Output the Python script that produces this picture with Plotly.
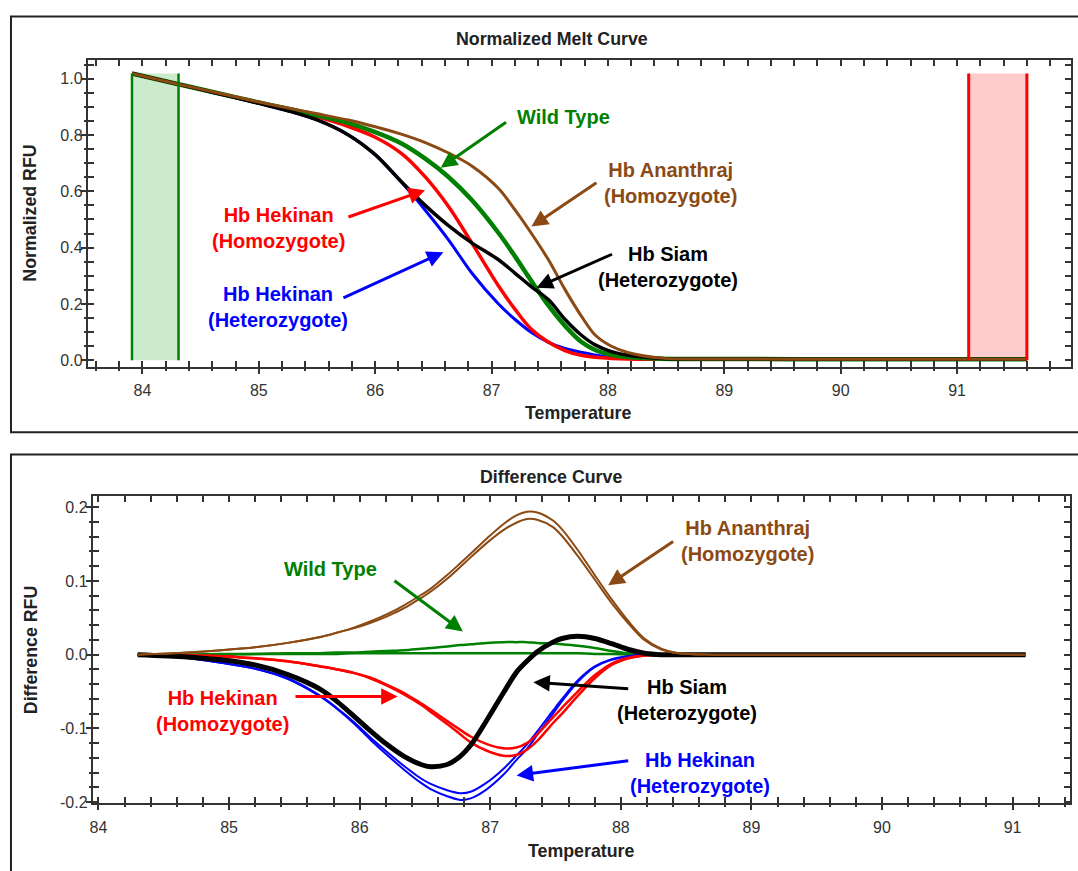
import plotly.graph_objects as go

W, H = 1078, 871
FONT = "Liberation Sans, Arial, sans-serif"

# ---------------- Normalized melt curve data ----------------
melt_temp = [83.91, 84.31, 84.63, 85.0, 85.25, 85.49, 85.77, 86.0, 86.23, 86.43, 86.63, 86.83, 87.06,
             87.2, 87.34, 87.49, 87.63, 87.77, 87.89, 88.03, 88.17, 88.46, 89.0, 90.0, 91.0, 91.6]
melt_wild = [1.018, 0.98, 0.95, 0.915, 0.893, 0.871, 0.842, 0.81, 0.769, 0.716, 0.651, 0.569, 0.452,
             0.37, 0.283, 0.194, 0.123, 0.066, 0.037, 0.02, 0.012, 0.006, 0.005, 0.004, 0.004, 0.004]
melt_hek_homo = [1.018, 0.98, 0.95, 0.914, 0.891, 0.866, 0.83, 0.792, 0.733, 0.651, 0.546, 0.417, 0.264,
                 0.182, 0.111, 0.064, 0.035, 0.018, 0.011, 0.007, 0.005, 0.004, 0.004, 0.004, 0.004, 0.004]
melt_hek_het = [1.018, 0.98, 0.949, 0.912, 0.886, 0.855, 0.8, 0.73, 0.63, 0.533, 0.428, 0.31, 0.2,
                0.146, 0.1, 0.064, 0.042, 0.029, 0.019, 0.011, 0.007, 0.004, 0.004, 0.004, 0.004, 0.004]
melt_siam = [1.018, 0.98, 0.949, 0.912, 0.886, 0.855, 0.8, 0.73, 0.632, 0.55, 0.478, 0.417, 0.357,
             0.31, 0.262, 0.215, 0.146, 0.09, 0.055, 0.031, 0.018, 0.007, 0.005, 0.004, 0.004, 0.004]
melt_ananthraj = [1.018, 0.98, 0.951, 0.917, 0.896, 0.876, 0.853, 0.829, 0.802, 0.773, 0.736, 0.69, 0.61,
                  0.535, 0.452, 0.356, 0.252, 0.158, 0.09, 0.05, 0.028, 0.008, 0.005, 0.004, 0.004, 0.004]

green_band = [83.91, 84.31]
red_band = [91.1, 91.6]
band_top = 1.018

# ---------------- Difference curve data ----------------
diff_temp = [84.3, 84.68, 84.94, 85.2, 85.45, 85.7, 85.83, 85.96, 86.08, 86.21, 86.34, 86.47,
             86.54, 86.67, 86.77, 86.85, 86.97, 87.1, 87.2, 87.28, 87.36, 87.48, 87.55, 87.67,
             87.8, 87.93, 88.06, 88.18, 88.31, 88.44, 88.7, 89.5, 90.5, 91.1]
diff_ananthraj_a = [0, 0.003, 0.006, 0.01, 0.016, 0.024, 0.03, 0.037, 0.045, 0.055, 0.067, 0.081,
                    0.089, 0.108, 0.124, 0.137, 0.157, 0.177, 0.189, 0.194, 0.193, 0.182, 0.17, 0.142,
                    0.108, 0.075, 0.045, 0.022, 0.008, 0.002, 0, 0, 0, 0]
diff_ananthraj_b = [0, 0.003, 0.006, 0.01, 0.016, 0.024, 0.03, 0.036, 0.043, 0.052, 0.063, 0.077,
                    0.085, 0.103, 0.119, 0.132, 0.151, 0.169, 0.179, 0.184, 0.183, 0.173, 0.161, 0.134,
                    0.102, 0.07, 0.042, 0.02, 0.007, 0.002, 0, 0, 0, 0]
diff_wild_a = [0, 0, 0.001, 0.001, 0.002, 0.002, 0.003, 0.003, 0.004, 0.005, 0.006, 0.008,
               0.009, 0.011, 0.013, 0.014, 0.016, 0.017, 0.017, 0.017, 0.016, 0.015, 0.014, 0.012,
               0.009, 0.005, 0.002, 0.001, 0, 0, 0, 0, 0, 0]
diff_wild_b = [0, 0, 0, 0.001, 0.001, 0.001, 0.001, 0.002, 0.002, 0.002, 0.002, 0.002,
               0.002, 0.002, 0.002, 0.002, 0.002, 0.002, 0.002, 0.002, 0.002, 0.002, 0.002, 0.002,
               0.001, 0.001, 0, 0, 0, 0, 0, 0, 0, 0]
diff_siam = [0, -0.003, -0.007, -0.014, -0.027, -0.047, -0.064, -0.084, -0.103, -0.122, -0.138, -0.149,
             -0.152, -0.149, -0.138, -0.123, -0.09, -0.052, -0.024, -0.009, 0.004, 0.017, 0.022, 0.025,
             0.022, 0.015, 0.007, 0.002, 0, 0, 0, 0, 0, 0]
diff_hek_het_a = [0, -0.0045, -0.011, -0.019, -0.032, -0.056, -0.073, -0.092, -0.112, -0.132, -0.151, -0.168,
                  -0.175, -0.184, -0.188, -0.186, -0.174, -0.155, -0.137, -0.122, -0.104, -0.076, -0.06, -0.035,
                  -0.016, -0.006, -0.002, 0, 0, 0, 0, 0, 0, 0]
diff_hek_het_b = [0, -0.0045, -0.011, -0.019, -0.033, -0.057, -0.074, -0.094, -0.115, -0.136, -0.156, -0.174,
                  -0.182, -0.192, -0.197, -0.195, -0.183, -0.163, -0.143, -0.128, -0.109, -0.08, -0.063, -0.037,
                  -0.017, -0.007, -0.002, 0, 0, 0, 0, 0, 0, 0]
diff_hek_homo_a = [0, -0.001, -0.002, -0.005, -0.009, -0.016, -0.02, -0.025, -0.031, -0.041, -0.052, -0.066,
                   -0.074, -0.09, -0.102, -0.111, -0.121, -0.127, -0.126, -0.12, -0.108, -0.085, -0.072, -0.05,
                   -0.028, -0.012, -0.004, -0.001, 0, 0, 0, 0, 0, 0]
diff_hek_homo_b = [0, -0.001, -0.002, -0.005, -0.009, -0.016, -0.02, -0.025, -0.032, -0.042, -0.054, -0.068,
                   -0.077, -0.094, -0.108, -0.119, -0.13, -0.137, -0.136, -0.129, -0.117, -0.093, -0.08, -0.056,
                   -0.032, -0.014, -0.005, -0.001, 0, 0, 0, 0, 0, 0]

# tick labels
melt_x_ticks = [84, 85, 86, 87, 88, 89, 90, 91]
melt_y_ticks = [0.0, 0.2, 0.4, 0.6, 0.8, 1.0]
melt_y_labels = ["0.0", "0.2", "0.4", "0.6", "0.8", "1.0"]
diff_x_ticks = [84, 85, 86, 87, 88, 89, 90, 91]
diff_y_ticks = [-0.2, -0.1, 0.0, 0.1, 0.2]
diff_y_labels = ["-0.2", "-0.1", "0.0", "0.1", "0.2"]

BROWN = "#8B4A14"
GREEN = "#008000"
RED = "#FF0000"
BLUE = "#0000FF"
BLACK = "#000000"
AX = "#333333"


def px(x):
    return x / W


def py(y):
    return 1 - y / H


fig = go.Figure()

top_series = [
    (melt_hek_het, BLUE, 3),
    (melt_hek_homo, RED, 3.5),
    (melt_wild, GREEN, 4.5),
    (melt_siam, BLACK, 3.5),
    (melt_ananthraj, BROWN, 3),
]
for vals, col, w in top_series:
    fig.add_trace(go.Scatter(x=melt_temp, y=vals, mode="lines", xaxis="x", yaxis="y",
                             line=dict(color=col, width=w, shape="spline", smoothing=0.9),
                             showlegend=False, hoverinfo="skip"))

bottom_series = [
    (diff_wild_b, GREEN, 2.5),
    (diff_wild_a, GREEN, 2.5),
    (diff_hek_het_a, BLUE, 2),
    (diff_hek_het_b, BLUE, 2),
    (diff_hek_homo_a, RED, 2.5),
    (diff_hek_homo_b, RED, 2.5),
    (diff_siam, BLACK, 5),
    (diff_ananthraj_a, BROWN, 2),
    (diff_ananthraj_b, BROWN, 2),
]
for vals, col, w in bottom_series:
    fig.add_trace(go.Scatter(x=diff_temp, y=vals, mode="lines", xaxis="x2", yaxis="y2",
                             line=dict(color=col, width=w, shape="spline", smoothing=0.9),
                             showlegend=False, hoverinfo="skip"))

for xa, ya in [("x3", "y"), ("x", "y3"), ("x4", "y2"), ("x2", "y4")]:
    fig.add_trace(go.Scatter(x=[], y=[], xaxis=xa, yaxis=ya, showlegend=False))

top_xr = [83.53, 91.975]
top_yr = [-0.0236, 1.066]
bot_xr = [83.956, 91.44]
bot_yr = [-0.2019, 0.2153]

top_xdom = [px(85), px(1070.5)]
top_ydom = [py(370), py(60.5)]
bot_xdom = [px(90), px(1070)]
bot_ydom = [py(810), py(500)]

tickfont = dict(family=FONT, size=16, color=AX)


def main_axis(dom, rng, dtick, minor_dtick, anchor):
    return dict(domain=dom, range=rng, anchor=anchor, showline=True, linecolor=AX, linewidth=2,
                mirror="allticks", ticks="inside", ticklen=6, tickwidth=1.5, tickcolor=AX,
                tick0=0, dtick=dtick,
                showticklabels=False, showgrid=False, zeroline=False,
                minor=dict(ticks="inside", dtick=minor_dtick, ticklen=3, tickwidth=1.5,
                           tickcolor=AX, showgrid=False))


def over_axis(over, rng, side, anchor, minor_dtick, tickvals, ticktext, standoff):
    return dict(overlaying=over, range=rng, side=side, anchor=anchor, showline=False,
                ticks="outside", ticklen=6, tickwidth=1.5, tickcolor=AX,
                tickmode="array", tickvals=tickvals, ticktext=ticktext,
                showticklabels=True, tickfont=tickfont, ticklabelstandoff=standoff,
                showgrid=False, zeroline=False,
                minor=dict(ticks="outside", dtick=minor_dtick, ticklen=3, tickwidth=1.5,
                           tickcolor=AX, showgrid=False))


fig.update_layout(
    width=W, height=H, margin=dict(l=0, r=0, t=0, b=0),
    paper_bgcolor="white", plot_bgcolor="white",
    xaxis=main_axis(top_xdom, top_xr, 1, 0.2, "y"),
    yaxis=main_axis(top_ydom, top_yr, 0.2, 0.05, "x"),
    xaxis2=main_axis(bot_xdom, bot_xr, 1, 0.2, "y2"),
    yaxis2=main_axis(bot_ydom, bot_yr, 0.1, 0.02, "x2"),
    xaxis3=over_axis("x", top_xr, "bottom", "y", 0.2, melt_x_ticks,
                     [str(t) for t in melt_x_ticks], 3),
    yaxis3=over_axis("y", top_yr, "left", "x", 0.05, melt_y_ticks, melt_y_labels, -5),
    xaxis4=over_axis("x2", bot_xr, "bottom", "y2", 0.2, diff_x_ticks,
                     [str(t) for t in diff_x_ticks], 3),
    yaxis4=over_axis("y2", bot_yr, "left", "x2", 0.02, diff_y_ticks, diff_y_labels, -5),
)

shapes = []
shapes.append(dict(type="rect", xref="paper", yref="paper", x0=px(8), x1=px(1090),
                   y0=py(435.7), y1=py(16.7), line=dict(color="#222", width=2), layer="below"))
shapes.append(dict(type="rect", xref="paper", yref="paper", x0=px(8), x1=px(1090),
                   y0=py(885), y1=py(458.3), line=dict(color="#222", width=2), layer="below"))
shapes.append(dict(type="rect", xref="x", yref="y", x0=green_band[0], x1=green_band[1], y0=0, y1=band_top,
                   fillcolor="rgba(0,150,0,0.2)", line=dict(width=0), layer="below"))
for xv in green_band:
    shapes.append(dict(type="line", xref="x", yref="y", x0=xv, x1=xv, y0=0, y1=band_top,
                       line=dict(color=GREEN, width=2.5), layer="above"))
shapes.append(dict(type="rect", xref="x", yref="y", x0=red_band[0], x1=red_band[1], y0=0, y1=band_top,
                   fillcolor="rgba(255,0,0,0.2)", line=dict(width=0), layer="below"))
for xv in red_band:
    shapes.append(dict(type="line", xref="x", yref="y", x0=xv, x1=xv, y0=0, y1=band_top,
                       line=dict(color=RED, width=3), layer="above"))
fig.update_layout(shapes=shapes)

ann = []


def title(text, x, y, size=17.8, angle=0):
    ann.append(dict(text="<b>%s</b>" % text, xref="paper", yref="paper", x=px(x), y=py(y),
                    showarrow=False, textangle=angle, xanchor="center", yanchor="middle",
                    font=dict(family=FONT, size=size, color="#222")))


title("Normalized Melt Curve", 551, 39.5)
title("Temperature", 577, 416)
title("Normalized RFU", 27.5, 215, angle=-90)
title("Difference Curve", 550, 481)
title("Temperature", 580, 858)
title("Difference RFU", 27.5, 655, angle=-90)


def label(text, x, y, col, xr, yr):
    ann.append(dict(text="<b>%s</b>" % text, xref=xr, yref=yr, x=x, y=y, showarrow=False,
                    xanchor="center", yanchor="middle", align="center",
                    font=dict(family=FONT, size=20, color=col)))


def arrow(hx, hy, tx, ty, col, xr, yr):
    ann.append(dict(text="", xref=xr, yref=yr, x=hx, y=hy, axref=xr, ayref=yr, ax=tx, ay=ty,
                    showarrow=True, arrowhead=2, arrowsize=1.1, arrowwidth=3, arrowcolor=col,
                    standoff=0, startstandoff=0))


label("Wild Type", 87.617, 0.864, GREEN, "x", "y")
arrow(86.563, 0.684, 87.137, 0.849, GREEN, "x", "y")
label("Hb Hekinan<br>(Homozygote)", 85.166, 0.469, RED, "x", "y")
arrow(86.428, 0.604, 85.757, 0.507, RED, "x", "y")
label("Hb Hekinan<br>(Heterozygote)", 85.166, 0.188, BLUE, "x", "y")
arrow(86.586, 0.384, 85.714, 0.219, BLUE, "x", "y")
label("Hb Ananthraj<br>(Homozygote)", 88.534, 0.629, BROWN, "x", "y")
arrow(87.343, 0.475, 87.914, 0.634, BROWN, "x", "y")
label("Hb Siam<br>(Heterozygote)", 88.517, 0.331, BLACK, "x", "y")
arrow(87.386, 0.258, 88.048, 0.379, BLACK, "x", "y")

label("Wild Type", 85.776, 0.1157, GREEN, "x2", "y2")
arrow(86.79, 0.0314, 86.255, 0.1019, GREEN, "x2", "y2")
label("Hb Ananthraj<br>(Homozygote)", 88.967, 0.1544, BROWN, "x2", "y2")
arrow(87.903, 0.0942, 88.412, 0.1548, BROWN, "x2", "y2")
label("Hb Hekinan<br>(Homozygote)", 84.947, -0.0763, RED, "x2", "y2")
arrow(86.291, -0.0569, 85.497, -0.0569, RED, "x2", "y2")
label("Hb Siam<br>(Heterozygote)", 88.504, -0.0618, BLACK, "x2", "y2")
arrow(87.33, -0.0373, 88.068, -0.0462, BLACK, "x2", "y2")
label("Hb Hekinan<br>(Heterozygote)", 88.608, -0.1611, BLUE, "x2", "y2")
arrow(87.202, -0.1638, 88.068, -0.1436, BLUE, "x2", "y2")

fig.update_layout(annotations=ann)
fig.write_html("out.html", config={"displayModeBar": False})

# remove default page margins so the figure sits at the window origin
with open("out.html", encoding="utf-8") as f:
    html = f.read()
html = html.replace("<head>", "<head><style>html,body{margin:0;padding:0;overflow:hidden;}</style>", 1)
with open("out.html", "w", encoding="utf-8") as f:
    f.write(html)
